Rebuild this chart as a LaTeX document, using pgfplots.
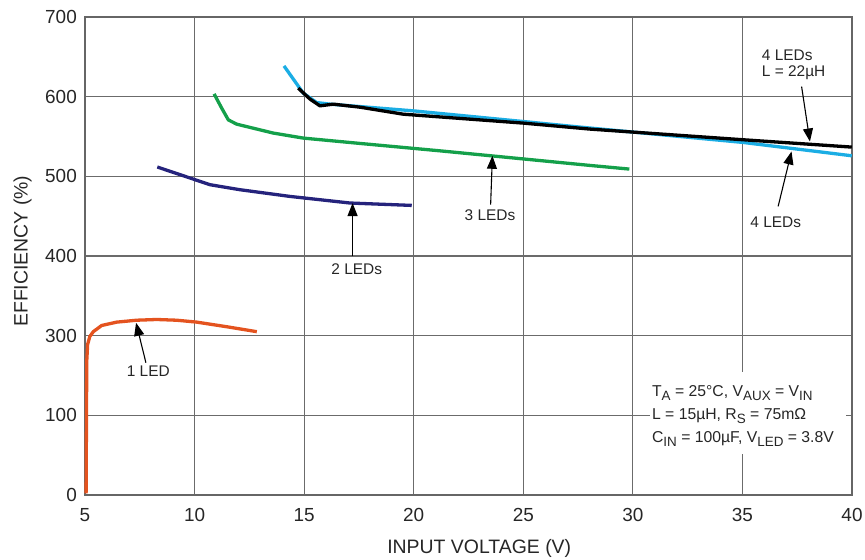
\documentclass[border=0pt]{standalone}
\usepackage{pgfplots}
\pgfplotsset{compat=1.18}
\usepackage{fontspec}
\setmainfont{Liberation Sans}
\usetikzlibrary{arrows.meta,calc}
\definecolor{cOne}{HTML}{E4531F}
\definecolor{cTwo}{HTML}{25237C}
\definecolor{cThree}{HTML}{14A04A}
\definecolor{cFour}{HTML}{1BADE4}
\newcommand\sub[1]{\raisebox{-0.45ex}{\fontsize{13.5}{13.5}\selectfont #1}}
\begin{document}
\begin{tikzpicture}
\begin{axis}[
  name=ax,
  scale only axis, width=767bp, height=478bp,
  xmin=5, xmax=40, ymin=100, ymax=700,
  xtick={5,10,...,40}, ytick={100,200,...,700},
  yticklabels={0,100,300,400,500,600,700},
  grid=major, major grid style={black!58, line width=1.1bp},
  axis line style={black!60, line width=1.1bp},
  major tick length=0pt,
  tick label style={font=\fontsize{19}{22}\selectfont, text=black!85},
  /pgf/number format/assume math mode=true,
  xticklabel style={inner sep=0pt, anchor=north, yshift=-13bp},
  yticklabel style={inner sep=0pt, anchor=east, xshift=-8bp},
  xlabel={INPUT VOLTAGE (V)}, ylabel={EFFICIENCY (\%)},
  label style={font=\fontsize{19.5}{22}\selectfont, text=black!85},
  xlabel style={at={(axis description cs:0.514,0)}, anchor=center, yshift=-53bp},
  ylabel style={at={(axis description cs:-0.0815,0.51)}, anchor=center},
  clip=false,
]
% white box behind conditions
\fill[white] (axis cs:30.78,253.9) rectangle (axis cs:39.73,151.1);
\node[anchor=base west, inner sep=0pt, font=\fontsize{15.8}{18}\selectfont, text=black!85] at (axis cs:30.87,223.8) {T\sub{A} = 25°C, V\sub{AUX} = V\sub{IN}};
\node[anchor=base west, inner sep=0pt, font=\fontsize{15.8}{18}\selectfont, text=black!85] at (axis cs:30.87,195.0) {L = 15µH, R\sub{S} = 75mΩ};
\node[anchor=base west, inner sep=0pt, font=\fontsize{15.8}{18}\selectfont, text=black!85] at (axis cs:30.87,166.2) {C\sub{IN} = 100µF, V\sub{LED} = 3.8V};

% 1 LED
\addplot[cOne, line width=3.3bp, line join=round] coordinates {
 (5.05,102) (5.08,268) (5.12,289) (5.22,299) (5.38,305) (5.76,312.8) (6.45,317)
 (7.36,319.4) (8.27,320.3) (9.18,319.4) (10.10,317) (11.47,311.2) (12.84,305)};
% 2 LEDs
\addplot[cTwo, line width=3.3bp, line join=round] coordinates {
 (8.30,511.7) (10.70,489.5) (12.07,483.2) (14.35,474.8) (17.09,466.5) (19.91,463.5)};
% 3 LEDs
\addplot[cThree, line width=3.3bp, line join=round] coordinates {
 (10.89,603.5) (11.25,585) (11.54,570.9) (11.92,565.5) (13.59,554.3) (14.96,548)
 (17.39,541.7) (21.20,532) (28.04,513.7) (29.84,509.1)};
% 4 LEDs
\addplot[cFour, line width=3.3bp, line join=round] coordinates {
 (14.08,638.6) (14.96,604.4) (15.57,592.6) (16.18,590.6) (19.98,582.2)
 (25.0,568.8) (27.59,561.8) (35.04,542.5) (39.99,525.8)};
% 4 LEDs, L = 22uH
\addplot[black, line width=3.3bp, line join=round] coordinates {
 (14.73,610.7) (15.27,596.9) (15.72,588.5) (16.33,590.6) (17.55,586.8)
 (19.52,578) (25.0,566.8) (28.04,559.3) (35.04,545.9) (39.99,536.7)};

% annotations
\tikzset{ann/.style={-{Triangle[length=13bp,width=10bp]}, line width=1.1bp, black}}
\tikzset{lab/.style={font=\fontsize{15.5}{18}\selectfont, text=black!85, inner sep=0pt}}
\draw[ann] (axis cs:7.78,266.0) -- (axis cs:7.33,316.2);
\node[lab] at (axis cs:7.89,255.1) {1 LED};
\draw[ann] (axis cs:17.21,399.6) -- (axis cs:17.21,466.5);
\node[lab] at (axis cs:17.40,382.9) {2 LEDs};
\draw[ann] (axis cs:23.51,464.4) -- (axis cs:23.59,525.8);
\node[lab] at (axis cs:23.48,451) {3 LEDs};
\draw[ann] (axis cs:36.63,462.3) -- (axis cs:37.24,531.2);
\node[lab] at (axis cs:36.52,442.7) {4 LEDs};
\draw[ann] (axis cs:37.70,612.7) -- (axis cs:38.08,543.7);
\node[lab, anchor=west] at (axis cs:35.88,652.4) {4 LEDs};
\node[lab, anchor=west] at (axis cs:35.88,629.8) {L = 22µH};
\end{axis}
\pgfresetboundingbox
\path ($(ax.south west)+(-85bp,-65bp)$) rectangle ($(ax.north east)+(13bp,17bp)$);
\end{tikzpicture}
\end{document}
